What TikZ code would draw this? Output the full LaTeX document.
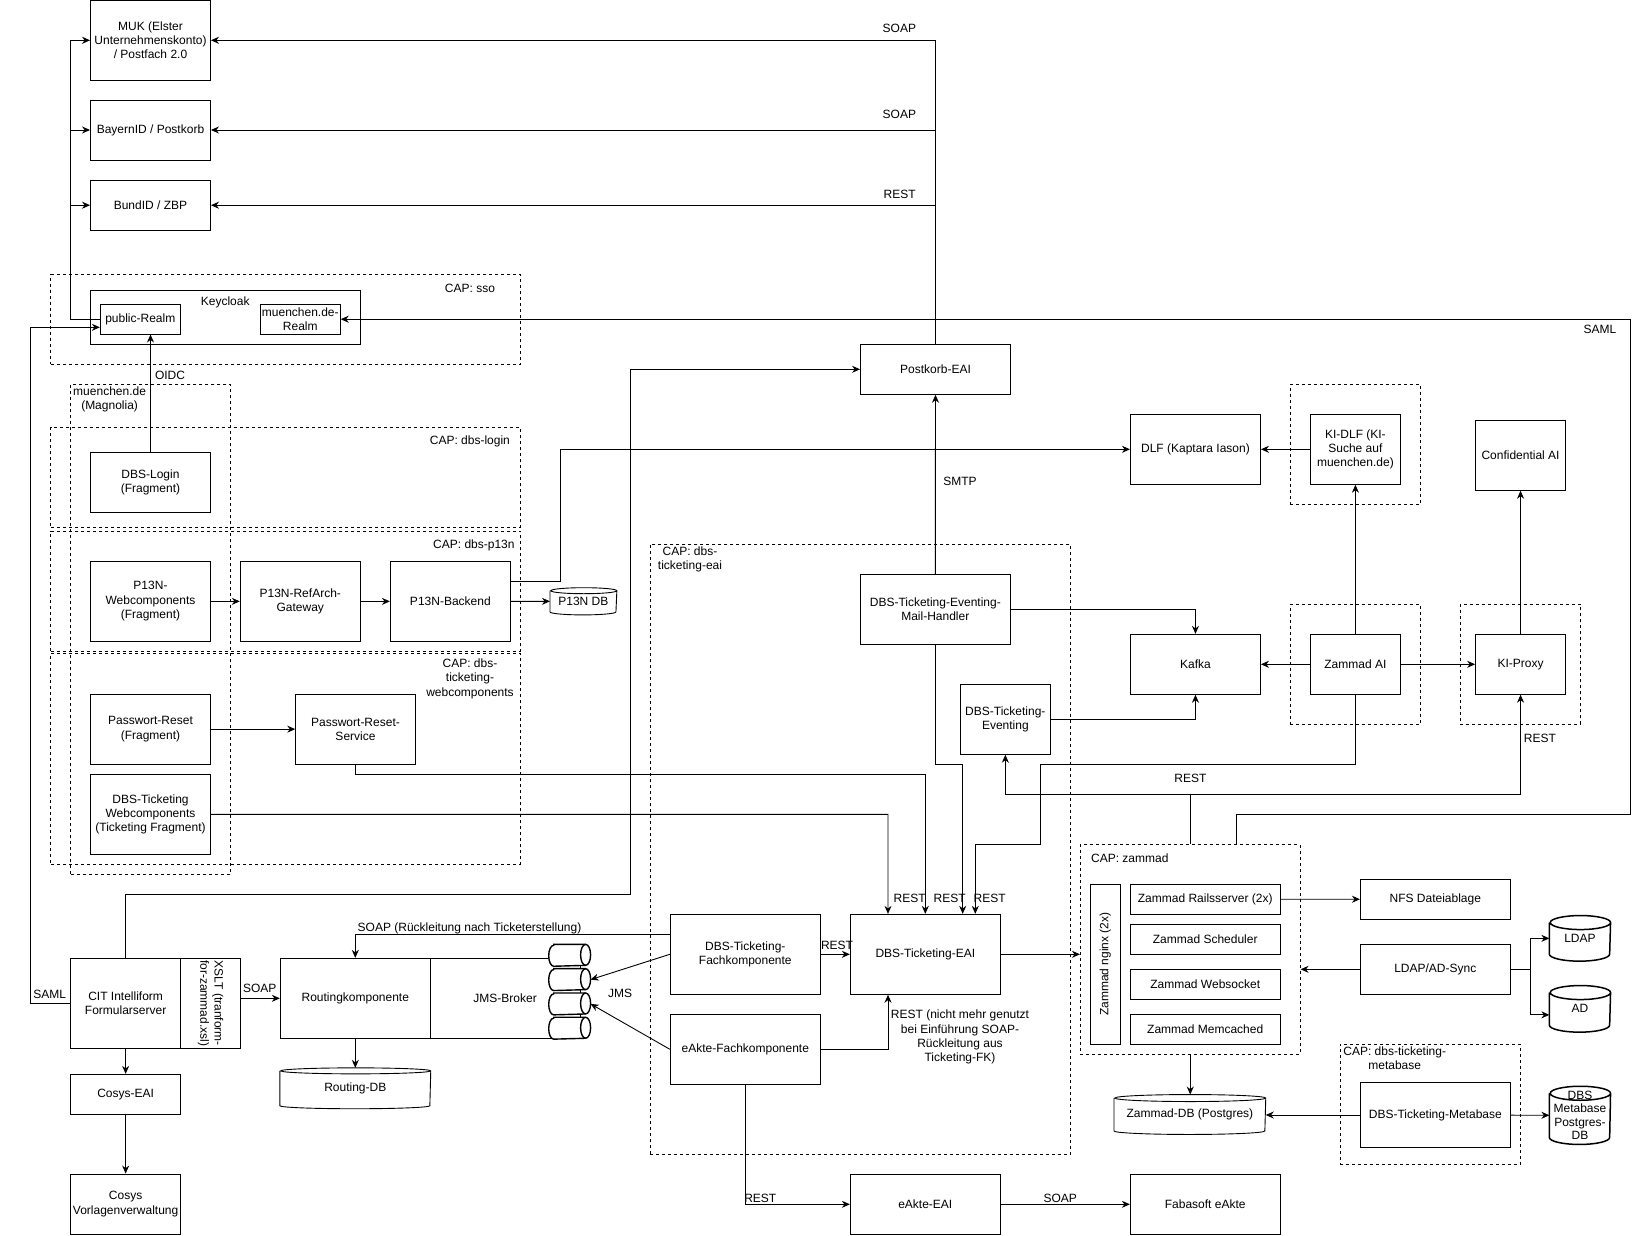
\documentclass[tikz,border=0pt]{standalone}
\usepackage{fontspec}
\setmainfont{Liberation Sans}
\usetikzlibrary{arrows.meta}
\newcommand{\fs}{\fontsize{12}{14.3}\selectfont}
% stehender Zylinder um einen benannten Knoten: [Optionen]{Knoten}{x-Radius}{y-Radius}
\newcommand{\dbshape}[4][]{%
  \draw[#1] ([yshift=-#4]#2.north west) -- ([yshift=#4]#2.south west)
    arc[start angle=180,end angle=360,x radius=#3,y radius=#4]
    -- ([yshift=-#4]#2.north east)
    arc[start angle=0,end angle=180,x radius=#3,y radius=#4]
    arc[start angle=180,end angle=360,x radius=#3,y radius=#4];}
% liegender Zylinder (Queue): {Knoten}{x-Radius}{y-Radius}
\newcommand{\queueshape}[3]{%
  \draw[line width=1.4pt,fill=white] ([xshift=#2]#1.north west) -- ([xshift=-#2]#1.north east)
    arc[start angle=90,end angle=-90,x radius=#2,y radius=#3]
    -- ([xshift=#2]#1.south west)
    arc[start angle=270,end angle=90,x radius=#2,y radius=#3] -- cycle;
  \draw[line width=1.4pt] ([xshift=-#2]#1.north east)
    arc[start angle=90,end angle=270,x radius=#2,y radius=#3];}

\begin{document}
\begin{tikzpicture}[x=1pt,y=-1pt,line width=0.9pt,
    >={Stealth[length=8pt,width=7pt]},
    box/.style={draw,fill=white,align=center,inner sep=1pt,font=\fs},
    frame/.style={draw,dash pattern=on 3pt off 3pt,inner sep=0pt},
    lbl/.style={align=center,inner sep=0pt,font=\fs},
    dbnode/.style={align=center,inner sep=0pt,font=\fs},
    qnode/.style={inner sep=0pt,minimum width=41,minimum height=21}]
\useasboundingbox (0,0) rectangle (1650,1236);

% CAP-Rahmen
\node[frame,minimum width=469.3,minimum height=90] (capsso) at (285.55,319.3) {};
\node[frame,minimum width=159.9,minimum height=490] (magnolia) at (150.45,629.3) {};
\node[frame,minimum width=469.3,minimum height=99.7] (caplogin) at (285.55,477.15) {};
\node[frame,minimum width=469.3,minimum height=120] (capp13n) at (285.55,591) {};
\node[frame,minimum width=469.3,minimum height=210.7] (capwc) at (285.55,758.65) {};
\node[frame,minimum width=420.4,minimum height=610.3] (capeai) at (860.5,849.15) {};
\node[frame,minimum width=219.7,minimum height=209.3] (capzammad) at (1190.25,949.35) {};
\node[frame,minimum width=180.6,minimum height=119.7] (capmeta) at (1430.3,1104.15) {};
\node[frame,minimum width=130.2,minimum height=120] (capkidlf) at (1355.4,444.3) {};
\node[frame,minimum width=130.2,minimum height=120] (capzai) at (1355.4,664.3) {};
\node[frame,minimum width=120.1,minimum height=120] (capproxy) at (1520.35,664.3) {};

\node[lbl] (lsso) at (470,288.3) {CAP: sso};
\node[lbl] (lmagnolia) at (109.6,399.2) {muenchen.de\\(Magnolia)};
\node[lbl] (llogin) at (469.9,441.7) {CAP: dbs-login};
\node[lbl] (lp13n) at (473.9,545.7) {CAP: dbs-p13n};
\node[lbl] (lwc) at (470,678.8) {CAP: dbs-\\ticketing-\\webcomponents};
\node[lbl] (leai) at (690,559.2) {CAP: dbs-\\ticketing-eai};
\node[lbl] (lzammad) at (1129.8,858.3) {CAP: zammad};
\node[lbl] (lmeta) at (1394.7,1058.5) {CAP: dbs-ticketing-\\metabase};

% Postfaecher
\node[box,minimum width=120,minimum height=79.5] (muk) at (150.5,40.3) {MUK (Elster\\Unternehmenskonto)\\/ Postfach 2.0};
\node[box,minimum width=120,minimum height=60] (bayernid) at (150.5,130) {BayernID / Postkorb};
\node[box,minimum width=120,minimum height=50] (bundid) at (150.5,205.2) {BundID / ZBP};

% Keycloak
\node[box,minimum width=269.7,minimum height=53.7] (keycloak) at (225.4,317.2) {};
\node[lbl] (lkeycloak) at (225.2,302.7) {Keycloak};
\node[box,minimum width=80,minimum height=29.7] (publicrealm) at (140.3,319.2) {public-Realm};
\node[box,minimum width=80,minimum height=29.7] (muenchenrealm) at (300.3,319.2) {muenchen.de-\\Realm};

% Fragmente und Webcomponents
\node[box,minimum width=120,minimum height=60] (dbslogin) at (150.5,482.3) {DBS-Login\\(Fragment)};
\node[box,minimum width=120,minimum height=79.3] (p13nwc) at (150.5,601.35) {P13N-\\Webcomponents\\(Fragment)};
\node[box,minimum width=120,minimum height=79.3] (p13ngw) at (300.25,601.35) {P13N-RefArch-\\Gateway};
\node[box,minimum width=120,minimum height=79.3] (p13nbe) at (450.35,601.35) {P13N-Backend};
\node[dbnode,minimum width=66,minimum height=26.3] (p13ndb) at (583.4,601.3) {\raisebox{-2pt}{P13N DB}};
\dbshape{p13ndb}{33pt}{3pt}
\node[box,minimum width=120,minimum height=69.7] (pwreset) at (150.5,729.15) {Passwort-Reset\\(Fragment)};
\node[box,minimum width=119.6,minimum height=69.7] (pwservice) at (355.5,729.15) {Passwort-Reset-\\Service};
\node[box,minimum width=120,minimum height=79.3] (ticketwc) at (150.5,814.35) {DBS-Ticketing\\Webcomponents\\(Ticketing Fragment)};

% Formularserver und Routing
\node[box,minimum width=110.3,minimum height=90] (cit) at (125.65,1003.3) {CIT Intelliform\\Formularserver};
\node[box,rotate=-90,minimum width=90,minimum height=59.7] (xslt) at (210.65,1003.3) {XSLT (tranform-\\for-zammad.xsl)};
\node[box,minimum width=110.3,minimum height=40] (cosyseai) at (125.65,1094.3) {Cosys-EAI};
\node[box,minimum width=110.3,minimum height=60] (cosysvv) at (125.65,1204) {Cosys\\Vorlagenverwaltung};
\node[box,minimum width=150,minimum height=80] (routing) at (355.3,998.3) {Routingkomponente};
\node[box,minimum width=149.7,minimum height=80] (jms) at (505.15,998.3) {JMS-Broker};
\node[qnode] (q1) at (569.65,955.3) {};
\node[qnode] (q2) at (569.65,979.6) {};
\node[qnode] (q3) at (569.65,1003.9) {};
\node[qnode] (q4) at (569.65,1028.2) {};
\queueshape{q1}{5pt}{10.5pt}
\queueshape{q2}{5pt}{10.5pt}
\queueshape{q3}{5pt}{10.5pt}
\queueshape{q4}{5pt}{10.5pt}
\node[dbnode,minimum width=150,minimum height=40] (routingdb) at (355.3,1088.3) {\raisebox{-4pt}{Routing-DB}};
\dbshape{routingdb}{75pt}{3pt}

% dbs-ticketing-eai
\node[box,minimum width=150,minimum height=50] (postkorb) at (935.5,369.3) {Postkorb-EAI};
\node[box,minimum width=150,minimum height=70] (mailhandler) at (935.3,609.3) {DBS-Ticketing-Eventing-\\Mail-Handler};
\node[box,minimum width=90.7,minimum height=70] (eventing) at (1005.35,719.3) {DBS-Ticketing-\\Eventing};
\node[box,minimum width=150,minimum height=80] (fachkomp) at (745.3,954.3) {DBS-Ticketing-\\Fachkomponente};
\node[box,minimum width=150,minimum height=80] (eai) at (925.3,954.3) {DBS-Ticketing-EAI};
\node[box,minimum width=150,minimum height=70] (eaktefk) at (745.3,1049.3) {eAkte-Fachkomponente};
\node[box,minimum width=150,minimum height=60] (eakteeai) at (925.3,1204.3) {eAkte-EAI};
\node[box,minimum width=149.8,minimum height=60] (fabasoft) at (1205.2,1204.3) {Fabasoft eAkte};

% KI und Kafka
\node[box,minimum width=130.1,minimum height=70] (dlf) at (1195.45,449.3) {DLF (Kaptara Iason)};
\node[box,minimum width=90.4,minimum height=70] (kidlf) at (1355.4,449.3) {KI-DLF (KI-\\Suche auf\\muenchen.de)};
\node[box,minimum width=89.9,minimum height=70] (confai) at (1520.55,455.3) {Confidential AI};
\node[box,minimum width=130.1,minimum height=60] (kafka) at (1195.45,664.3) {Kafka};
\node[box,minimum width=90.4,minimum height=60] (zai) at (1355.4,664.3) {Zammad AI};
\node[box,minimum width=89.9,minimum height=60] (kiproxy) at (1520.55,664.3) {KI-Proxy};

% Zammad
\node[box,rotate=90,minimum width=159.7,minimum height=30] (nginx) at (1105.3,964.15) {Zammad nginx (2x)};
\node[box,minimum width=149.8,minimum height=29.7] (rails) at (1205.2,899.15) {Zammad Railsserver (2x)};
\node[box,minimum width=149.8,minimum height=29.7] (scheduler) at (1205.2,939.15) {Zammad Scheduler};
\node[box,minimum width=149.8,minimum height=29.7] (websocket) at (1205.2,984.15) {Zammad Websocket};
\node[box,minimum width=149.8,minimum height=29.7] (memcached) at (1205.2,1029.15) {Zammad Memcached};
\node[box,minimum width=149.8,minimum height=40] (nfs) at (1435.3,899.3) {NFS Dateiablage};
\node[box,minimum width=149.8,minimum height=50] (ldapsync) at (1435.3,969.3) {LDAP/AD-Sync};
\node[dbnode,minimum width=60.3,minimum height=44.7] (ldap) at (1579.95,938.35) {LDAP};
\dbshape[line width=1.5pt]{ldap}{30.15pt}{7pt}
\node[dbnode,minimum width=60.3,minimum height=45.7] (ad) at (1579.95,1008.85) {AD};
\dbshape[line width=1.5pt]{ad}{30.15pt}{7pt}
\node[dbnode,minimum width=150.9,minimum height=39] (zammaddb) at (1189.85,1114.5) {\raisebox{-3pt}{Zammad-DB (Postgres)}};
\dbshape{zammaddb}{75.45pt}{3.5pt}
\node[box,minimum width=149.8,minimum height=64.6] (metabase) at (1435.3,1115) {DBS-Ticketing-Metabase};
\node[dbnode,font=\fontsize{12}{13.3}\selectfont,minimum width=60.3,minimum height=57.3] (metadb) at (1579.95,1115.35) {DBS\\Metabase\\Postgres-\\DB};
\dbshape[line width=1.5pt]{metadb}{30.15pt}{7pt}

% Verbindungen Login
\coordinate (ssobus) at (70.5,319.2);
\draw[->] (publicrealm.west) -- (ssobus) |- (muk.west);
\draw[->] (ssobus |- bayernid.west) -- (bayernid.west);
\draw[->] (ssobus |- bundid.west) -- (bundid.west);
\draw[->] (postkorb.north) |- (muk.east);
\draw[->] (postkorb.north |- bayernid.east) -- (bayernid.east);
\draw[->] (postkorb.north |- bundid.east) -- (bundid.east);
\node[lbl] (lsoap1) at (899.4,28.3) {SOAP};
\node[lbl] (lsoap2) at (899.4,114.3) {SOAP};
\node[lbl] (lrest1) at (899.6,194.3) {REST};
\draw[->] (dbslogin.north) -- (dbslogin.north |- publicrealm.south);
\node[lbl] (loidc) at (170,375) {OIDC};
\coordinate (samlleft) at (30.5,327.3);
\draw[->] (cit.west) -| (samlleft) -- (samlleft -| publicrealm.west);
\node[lbl] (lsaml1) at (49.8,994) {SAML};
\coordinate (samlcorner) at (1630.6,814.3);
\draw[->] ([xshift=46.15pt]capzammad.north) |- (samlcorner) |- (muenchenrealm.east);
\node[lbl] (lsaml2) at (1600,329.3) {SAML};

% Verbindungen Webcomponents
\draw[->] (p13nwc) -- (p13ngw);
\draw[->] (p13ngw) -- (p13nbe);
\draw[->] (p13nbe.east) -- (p13ndb.west);
\coordinate (dlfbend) at (560.3,449.3);
\draw[->] ([yshift=20.35pt]p13nbe.east) -| (dlfbend) -- (dlf.west);
\draw[->] (pwreset) -- (pwservice);
\coordinate (pwbend) at (925.3,774.3);
\draw[->] (pwservice.south) |- (pwbend) -- (pwbend |- eai.north);
\coordinate (wcbend) at (888,814.3);
\draw[->] (ticketwc.east) -- (wcbend) -- (wcbend |- eai.north);

% Formularserver
\coordinate (citroute) at (630.3,894.3);
\draw[->] (cit.north) |- (citroute) |- (postkorb.west);
\draw[->] (xslt.north |- routing.west) -- (routing.west);
\node[lbl] (lsoap3) at (259.8,988.3) {SOAP};
\draw[->] (cit) -- (cosyseai);
\draw[->] (cosyseai) -- (cosysvv);
\draw[->] (routing.south) -- (routingdb.north);
\draw[->] ([yshift=20.3pt]fachkomp.west) -| (routing.north);
\node[lbl] (lsoap4) at (469.5,928.3) {SOAP (Rückleitung nach Ticketerstellung)};
\draw[->] (fachkomp.west) -- (q2.east);
\draw[->] (eaktefk.west) -- (q3.east);
\node[lbl] (ljms) at (620,993.3) {JMS};

% dbs-ticketing-eai
\draw[->] (mailhandler.north) -- (postkorb.south);
\node[lbl] (lsmtp) at (960,481) {SMTP};
\coordinate (mhbend) at (962.7,764.3);
\draw[->] (mailhandler.south) |- (mhbend) -- (mhbend |- eai.north);
\coordinate (zaia) at (1040.3,764.3);
\coordinate (zaib) at (975.3,844.3);
\draw[->] (zai.south) |- (zaia) |- (zaib) -- (zaib |- eai.north);
\node[lbl] (lrest2) at (909.7,898.3) {REST};
\node[lbl] (lrest3) at (949.7,898.3) {REST};
\node[lbl] (lrest4) at (989.7,898.3) {REST};
\draw[->] (mailhandler.east) -| (kafka.north);
\draw[->] (eventing.east) -| (kafka.south);
\draw[->] (fachkomp) -- (eai);
\node[lbl] (lrest5) at (837,945) {REST};
\draw[->] (eai.east) -- (eai.east -| capzammad.west);
\draw[->] (eaktefk.east) -| ([xshift=-37.3pt]eai.south);
\node[lbl] (lrest6) at (960,1037.3) {REST (nicht mehr genutzt\\bei Einführung SOAP-\\Rückleitung aus\\Ticketing-FK)};
\draw[->] (eaktefk.south) |- (eakteeai.west);
\node[lbl] (lrest7) at (760.3,1198.3) {REST};
\draw[->] (eakteeai) -- (fabasoft);
\node[lbl] (lsoap5) at (1060.3,1198.3) {SOAP};

% KI
\draw[->] (zai) -- (kafka);
\draw[->] (zai) -- (kiproxy);
\draw[->] (zai) -- (kidlf);
\draw[->] (kidlf) -- (dlf);
\draw[->] (kiproxy) -- (confai);
\coordinate (restjoin) at (1190.25,794.3);
\draw (capzammad.north) -- (restjoin);
\draw[->] (restjoin) -| (eventing.south);
\draw[->] (restjoin) -| (kiproxy.south);
\node[lbl] (lrest8) at (1190.4,778.3) {REST};
\node[lbl] (lrest9) at (1539.9,738.3) {REST};

% Zammad
\draw[->] (rails) -- (nfs);
\draw[->] (ldapsync.west) -- (ldapsync.west -| capzammad.east);
\coordinate (ldapsplit) at (1530.6,969.3);
\draw (ldapsync.east) -- (ldapsplit);
\draw[->] (ldapsplit) |- (ldap.west);
\draw[->] (ldapsplit) |- ([yshift=-6pt]ad.west);
\draw[->] (capzammad.south) -- (capzammad.south |- zammaddb.north);
\draw[->] (metabase.west) -- (metabase.west -| zammaddb.east);
\draw[->] (metabase) -- (metadb);
\end{tikzpicture}
\end{document}
